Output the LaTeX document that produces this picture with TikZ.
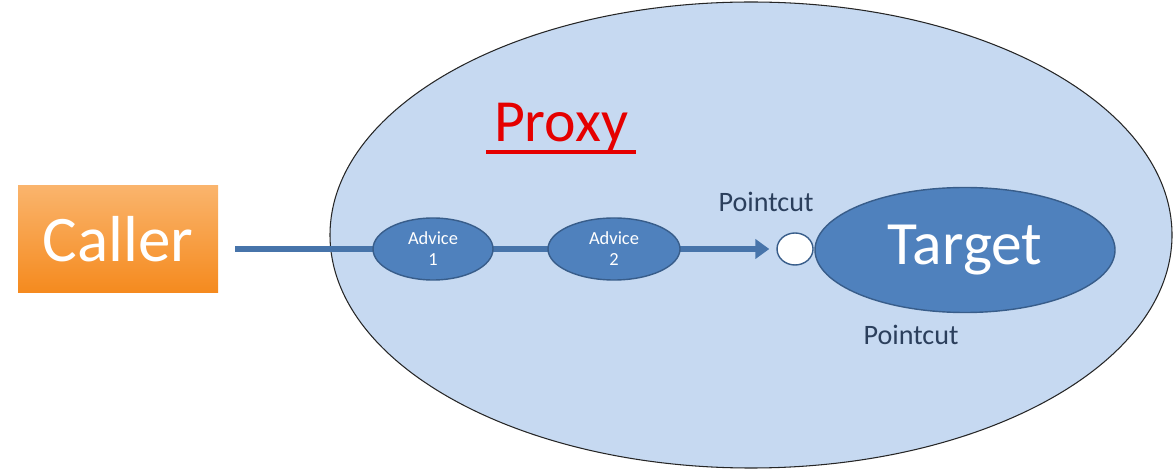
\documentclass[tikz,border=0pt]{standalone}
\usepackage{fontspec}
\setmainfont{Carlito}
\usepackage{tikz}
\usetikzlibrary{shapes,arrows.meta}

\definecolor{proxyfill}{HTML}{C6D9F1}
\definecolor{advblue}{HTML}{4F81BD}
\definecolor{advline}{HTML}{385D8A}
\definecolor{cuttext}{HTML}{2B3F5C}
\definecolor{calltop}{HTML}{FAB46C}
\definecolor{callbot}{HTML}{F58A1E}

\begin{document}
\begin{tikzpicture}[
        advice/.style={ellipse, fill=advblue, draw=advline, thick, text=white, inner sep=0pt,
            minimum width=2.4cm, minimum height=1.24cm, align=center,
            font=\fontsize{10.5}{12}\selectfont},
        flow/.style={draw=advblue!90!black, line width=3.6pt, -{Triangle[length=8pt,width=11pt]}},
        cut/.style={text=cuttext, anchor=base, inner sep=0pt, font=\fontsize{16}{18}\selectfont}
        ]
    \useasboundingbox (0,0) rectangle (23.48,9.44);
    \node[ellipse, draw=black!85, semithick, fill=proxyfill, minimum width=16.84cm, minimum height=9.32cm] (proxy) at (15.02,4.74) {};
    \node[top color=calltop, bottom color=callbot, minimum width=4cm, minimum height=2.14cm,
        text=white, font=\fontsize{37}{40}\selectfont] (caller) at (2.36,4.65) {Caller};
    \node[ellipse, fill=advblue, draw=advline, thick, minimum width=6cm, minimum height=2.5cm,
        text=white, font=\fontsize{35}{40}\selectfont] (target) at (19.3,4.44) {Target};
    \node[ellipse, fill=white, draw=advline, thick, inner sep=0pt, minimum width=0.72cm, minimum height=0.64cm] (pc) at (15.9,4.46) {};
    \draw[flow, shorten <=0.34cm, shorten >=0.14cm] (caller.east |- pc.west) -- (pc.west);
    \node[advice] (adv1) at (8.66,4.46) {Advice\\1};
    \node[advice, minimum width=2.64cm] (adv2) at (12.28,4.46) {Advice\\2};
    \node[text=red!90!black, anchor=base, inner sep=0pt, font=\fontsize{34}{40}\selectfont] (proxylbl) at (11.22,6.6) {Proxy};
    \draw[red!90!black, line width=2pt] ([xshift=-0.15cm, yshift=-0.2cm]proxylbl.base west) -- ([xshift=0.15cm, yshift=-0.2cm]proxylbl.base east);
    \node[cut] (cut1) at (15.32,5.2) {Pointcut};
    \node[cut] (cut2) at (18.22,2.54) {Pointcut};
\end{tikzpicture}
\end{document}
